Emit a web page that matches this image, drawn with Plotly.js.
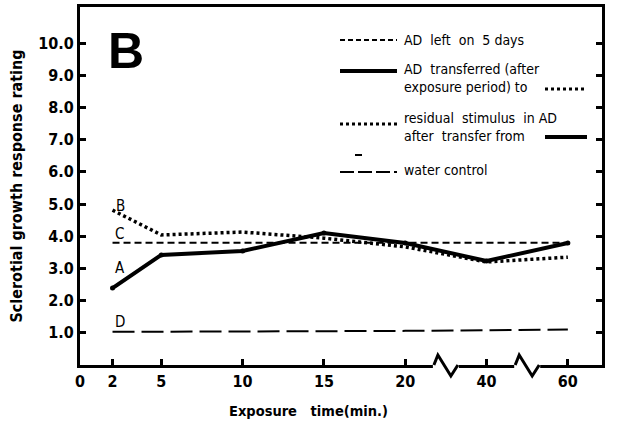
<!DOCTYPE html>
<html>
<head>
<meta charset="utf-8">
<script src="https://cdn.plot.ly/plotly-3.0.1.min.js"></script>
<style>html,body{margin:0;padding:0;background:#fff;}#chart{width:617px;height:423px;}</style>
</head>
<body>
<div id="chart"></div>
<script>
// ---- data ----
const exposureTimes = [2, 5, 10, 15, 20, 40, 60];          // minutes
const tickTimes = [0, 2, 5, 10, 15, 20, 40, 60];
const tickLabels = ['0', '2', '5', '10', '15', '20', '40', '60'];
const yTickVals = [1, 2, 3, 4, 5, 6, 7, 8, 9, 10];
const yTickLabels = ['1.0', '2.0', '3.0', '4.0', '5.0', '6.0', '7.0', '8.0', '9.0', '10.0'];
const seriesA = [2.39, 3.42, 3.54, 4.10, 3.79, 3.23, 3.79]; // AD transferred
const seriesB = [4.81, 4.04, 4.13, 3.94, 3.67, 3.20, 3.35]; // residual stimulus
const seriesC = [3.80, 3.80, 3.80, 3.80, 3.80, 3.80, 3.80]; // AD left on 5 days
const seriesD = [1.03, 1.03, 1.04, 1.05, 1.06, 1.09, 1.10]; // water control

// broken x axis: linear up to 20, then 40 and 60 compressed
function axisPos(t) { return t <= 20 ? t : 20 + (t - 20) / 4; }
const X = exposureTimes.map(axisPos);
const xMax = 32.1, yMax = 11.12;

const FONT = 'Liberation Sans Narrow, DejaVu Sans Condensed, Arial Narrow, sans-serif';
const black = '#000';

const traces = [
  {x: X, y: seriesC, mode: 'lines', line: {color: black, width: 2, dash: '7px,4px'}, name: 'AD left on 5 days'},
  {x: X, y: seriesD, mode: 'lines', line: {color: black, width: 2, dash: '22px,7px'}, name: 'water control'},
  {x: X, y: seriesB, mode: 'lines', line: {color: black, width: 3.5, dash: '3px,3px'}, name: 'residual stimulus in AD'},
  {x: X, y: seriesA, mode: 'lines+markers', line: {color: black, width: 4}, marker: {color: black, size: 5}, name: 'AD transferred'}
];

// paper helpers for decorations
function px(xpix) { return (xpix - 80) / 522; }
function py(ypix) { return (365 - ypix) / 358; }

const shapes = [];
const annotations = [];

// axis break zigzags
[22.5, 27.5].forEach(function (p) {
  const c = p / xMax;
  const d = 1 / 522;
  shapes.push({type: 'line', xref: 'paper', yref: 'paper', x0: c - 13 * d, x1: c + 13 * d, y0: 0, y1: 0,
    line: {color: '#fff', width: 6}, layer: 'above'});
  shapes.push({type: 'path', xref: 'paper', yref: 'paper', layer: 'above',
    path: 'M ' + (c - 12 * d) + ' 0 L ' + (c - 8 * d) + ' ' + (10 / 358) + ' L ' + (c + 5 * d) + ' ' + (-11 / 358) + ' L ' + (c + 12 * d) + ' 0',
    line: {color: black, width: 3}});
});

// custom legend
function seg(x0, x1, y, width, dash) {
  shapes.push({type: 'line', xref: 'paper', yref: 'paper', x0: px(x0), x1: px(x1), y0: py(y), y1: py(y),
    line: {color: black, width: width, dash: dash}});
}
function txt(x, y, t) {
  annotations.push({xref: 'paper', yref: 'paper', x: px(x), y: py(y), text: t, showarrow: false,
    xanchor: 'left', yanchor: 'middle', align: 'left', font: {family: FONT, size: 14, color: black}});
}
seg(340, 397, 40, 2, '5px,3px');      txt(402, 40, 'AD&nbsp;&nbsp;left&nbsp;&nbsp;on&nbsp;&nbsp;5 days');
seg(340, 397, 71, 4, 'solid');        txt(402, 78, 'AD&nbsp;&nbsp;transferred (after<br>exposure period) to');
seg(545, 587, 89, 3, '3px,3px');
seg(340, 397, 124, 3, '3px,3px');     txt(402, 127, 'residual&nbsp;&nbsp;stimulus&nbsp;&nbsp;in AD<br>after&nbsp;&nbsp;transfer from');
seg(545, 587, 137, 4, 'solid');
seg(355, 362, 155, 2, 'solid');
seg(340, 397, 172, 2, '14px,4px');    txt(402, 170, 'water control');

// curve labels
[['B', 2.5, 4.95], ['C', 2.4, 4.07], ['A', 2.45, 3.0], ['D', 2.45, 1.33]].forEach(function (l) {
  annotations.push({x: l[1], y: l[2], text: l[0], showarrow: false, xanchor: 'center', yanchor: 'middle',
    font: {family: FONT, size: 15, color: black}});
});

// panel letter
annotations.push({xref: 'paper', yref: 'paper', x: px(126), y: py(51), text: 'B', showarrow: false,
  xanchor: 'center', yanchor: 'middle', font: {family: 'Liberation Sans, Arial, sans-serif', size: 50, weight: 'bold', color: black}});

// x-axis title (off-centre in the original, so placed as an annotation)
annotations.push({xref: 'paper', yref: 'paper', x: px(308), y: py(411), text: 'Exposure&nbsp;&nbsp;&nbsp;time(min.)',
  showarrow: false, xanchor: 'center', yanchor: 'middle', font: {family: FONT, size: 14.5, weight: 'bold', color: black}});

const layout = {
  width: 617, height: 423,
  margin: {l: 80, r: 15, t: 7, b: 58},
  paper_bgcolor: '#fff', plot_bgcolor: '#fff',
  showlegend: false,
  xaxis: {
    range: [0, xMax], tickvals: tickTimes.map(axisPos), ticktext: tickLabels,
    showgrid: false, zeroline: false, showline: true, linecolor: black, linewidth: 3, mirror: true,
    ticks: 'inside', ticklen: 6, tickwidth: 3, tickcolor: black,
    tickfont: {family: FONT, size: 16, weight: 'bold', color: black}
  },
  yaxis: {
    range: [0, yMax], tickvals: yTickVals, ticktext: yTickLabels,
    showgrid: false, zeroline: false, showline: true, linecolor: black, linewidth: 3, mirror: 'ticks',
    ticks: 'inside', ticklen: 6, tickwidth: 3, tickcolor: black,
    tickfont: {family: FONT, size: 16, weight: 'bold', color: black},
    title: {text: 'Sclerotial growth response rating', font: {family: FONT, size: 16, weight: 'bold', color: black}, standoff: 12}
  },
  shapes: shapes,
  annotations: annotations
};

Plotly.newPlot('chart', traces, layout, {displayModeBar: false, staticPlot: true});
</script>
</body>
</html>
